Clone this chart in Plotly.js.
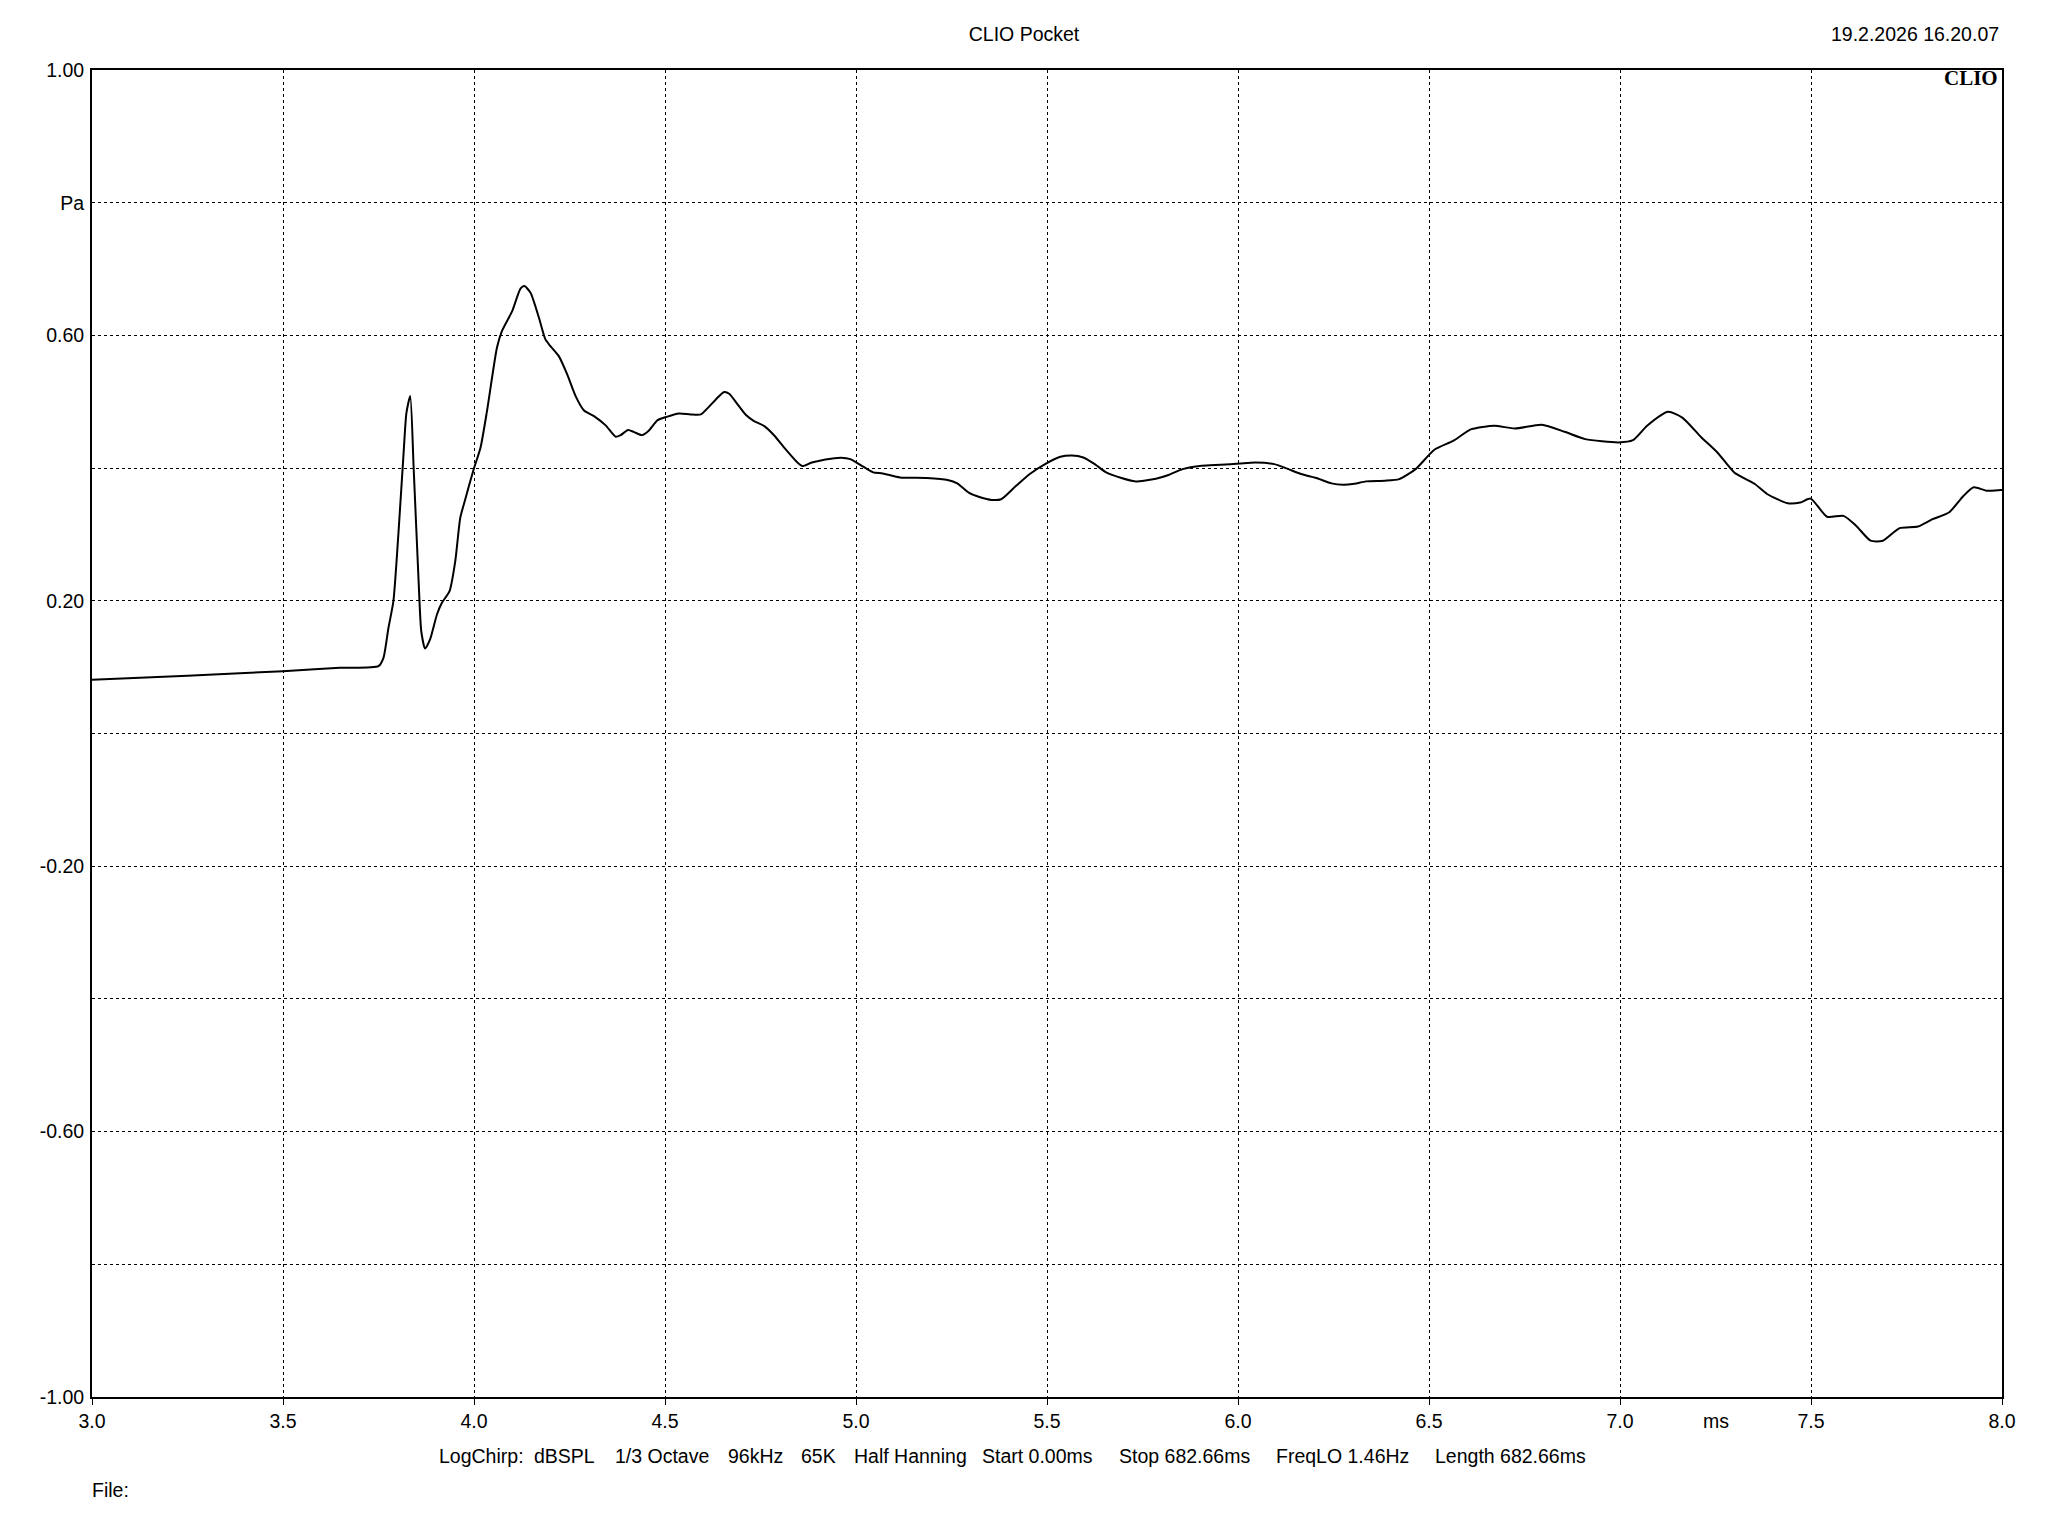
<!DOCTYPE html>
<html>
<head>
<meta charset="utf-8">
<script src="https://cdn.plot.ly/plotly-3.0.1.min.js"></script>
<style>
  html, body { margin: 0; padding: 0; background: #ffffff; }
  #chart { width: 2048px; height: 1536px; }
</style>
</head>
<body>
<div id="chart"></div>
<script>
// ---- Data ----
const time_ms = [
  3.000, 3.250, 3.500, 3.649, 3.750, 3.763, 3.776, 3.789, 3.802, 3.816,
  3.823, 3.833, 3.842, 3.855, 3.862, 3.872, 3.885, 3.903, 3.916, 3.936,
  3.951, 3.964, 3.977, 3.999, 4.017, 4.034, 4.060, 4.073, 4.100, 4.122,
  4.132, 4.148, 4.170, 4.187, 4.200, 4.222, 4.244, 4.266, 4.288, 4.314,
  4.344, 4.371, 4.384, 4.403, 4.419, 4.440, 4.458, 4.480, 4.502, 4.537,
  4.567, 4.594, 4.611, 4.633, 4.655, 4.668, 4.690, 4.712, 4.733, 4.760,
  4.786, 4.816, 4.843, 4.860, 4.882, 4.908, 4.934, 4.961, 4.985, 5.015,
  5.045, 5.070, 5.115, 5.185, 5.240, 5.265, 5.295, 5.325, 5.355, 5.380,
  5.415, 5.455, 5.495, 5.535, 5.565, 5.595, 5.625, 5.655, 5.695, 5.730,
  5.785, 5.820, 5.855, 5.905, 5.955, 6.005, 6.045, 6.095, 6.125, 6.165,
  6.205, 6.245, 6.275, 6.305, 6.335, 6.385, 6.422, 6.465, 6.514, 6.563,
  6.611, 6.671, 6.725, 6.795, 6.855, 6.909, 6.996, 7.034, 7.071, 7.126,
  7.163, 7.212, 7.255, 7.299, 7.353, 7.385, 7.439, 7.472, 7.499, 7.542,
  7.585, 7.618, 7.656, 7.688, 7.732, 7.780, 7.818, 7.861, 7.899, 7.926,
  7.959, 7.997, 8.000
];
const pressure_pa = [
  0.081, 0.087, 0.094, 0.099, 0.1015, 0.114, 0.159, 0.1995, 0.300, 0.4256,
  0.483, 0.5085, 0.4005, 0.2297, 0.154, 0.128, 0.1417, 0.1794, 0.197, 0.2146,
  0.2598, 0.325, 0.3528, 0.398, 0.4307, 0.486, 0.5814, 0.6065, 0.6367, 0.6709,
  0.6744, 0.6643, 0.6266, 0.594, 0.5839, 0.5688, 0.5412, 0.5085, 0.4869, 0.4784,
  0.4648, 0.4472, 0.4497, 0.4573, 0.4543, 0.4497, 0.4568, 0.4719, 0.4769, 0.4824,
  0.4809, 0.4809, 0.4900, 0.5035, 0.5146, 0.5120, 0.4960, 0.4799, 0.4709, 0.4633,
  0.4492, 0.4281, 0.4106, 0.4030, 0.4080, 0.4116, 0.4140, 0.4156, 0.4135, 0.4035,
  0.3935, 0.392, 0.386, 0.385, 0.382, 0.377, 0.363, 0.356, 0.352, 0.353,
  0.371, 0.391, 0.406, 0.417, 0.419, 0.416, 0.406, 0.3935, 0.385, 0.380,
  0.384, 0.390, 0.3985, 0.4035, 0.405, 0.407, 0.4085, 0.406, 0.400, 0.391,
  0.385, 0.377, 0.375, 0.3765, 0.380, 0.381, 0.3834, 0.3985, 0.4276, 0.441,
  0.4587, 0.4638, 0.4597, 0.4653, 0.4547, 0.4437, 0.4387, 0.442, 0.4638, 0.4848,
  0.476, 0.447, 0.4236, 0.3935, 0.376, 0.361, 0.347, 0.348, 0.354, 0.3267,
  0.328, 0.3132, 0.2906, 0.2906, 0.3096, 0.312, 0.323, 0.333, 0.358, 0.371,
  0.366, 0.367, 0.367
];

const x_tickvals = [3.0, 3.5, 4.0, 4.5, 5.0, 5.5, 6.0, 6.5, 7.0, 7.5, 8.0];
const x_ticktext = ["3.0", "3.5", "4.0", "4.5", "5.0", "5.5", "6.0", "6.5", "7.0", "7.5", "8.0"];
const y_tickvals = [1.0, 0.8, 0.6, 0.4, 0.2, 0.0, -0.2, -0.4, -0.6, -0.8, -1.0];
const y_ticktext = ["1.00", "Pa", "0.60", "", "0.20", "", "-0.20", "", "-0.60", "", "-1.00"];

const title_text = "CLIO Pocket";
const date_text = "19.2.2026 16.20.07";
const logo_text = "CLIO";
const x_unit = "ms";
const x_unit_pos = 7.25;
const file_text = "File:";
const info_items = ["LogChirp:", "dBSPL", "1/3 Octave", "96kHz", "65K", "Half Hanning",
                    "Start 0.00ms", "Stop 682.66ms", "FreqLO 1.46Hz", "Length 682.66ms"];

// ---- Layout helpers (page pixel -> paper coords) ----
const L = 92, R = 46, T = 70, B = 139, W = 2048, H = 1536;
const PW = W - L - R, PH = H - T - B;
const px = X => (X - L) / PW;
const py = Y => (H - B - Y) / PH;

const FONT = "Liberation Sans, Arial, sans-serif";
const infoLeft = [437, 532, 613, 726, 799, 852, 980, 1117, 1274, 1433];

const annotations = [];
info_items.forEach((t, i) => {
  annotations.push({
    text: t, xref: "paper", yref: "paper", x: px(infoLeft[i]), y: py(1456),
    xanchor: "left", yanchor: "middle", showarrow: false,
    font: { family: FONT, size: 19.5, color: "#000" }
  });
});
annotations.push({
  text: file_text, xref: "paper", yref: "paper", x: px(90), y: py(1490),
  xanchor: "left", yanchor: "middle", showarrow: false,
  font: { family: FONT, size: 19.5, color: "#000" }
});
annotations.push({
  text: x_unit, xref: "x", yref: "paper", x: x_unit_pos, y: py(1421),
  xanchor: "center", yanchor: "middle", showarrow: false,
  font: { family: FONT, size: 19.5, color: "#000" }
});
annotations.push({
  text: date_text, xref: "paper", yref: "paper", x: px(2001), y: py(34),
  xanchor: "right", yanchor: "middle", showarrow: false,
  font: { family: FONT, size: 19.5, color: "#000" }
});
annotations.push({
  text: "<b>" + logo_text + "</b>", xref: "paper", yref: "paper", x: px(2000), y: py(78),
  xanchor: "right", yanchor: "middle", showarrow: false,
  font: { family: "Liberation Serif, Times New Roman, serif", size: 21, color: "#000" }
});

const trace = {
  x: time_ms, y: pressure_pa, type: "scatter", mode: "lines",
  line: { color: "#000000", width: 2, shape: "spline", smoothing: 0.6 },
  hoverinfo: "skip"
};

const layout = {
  width: W, height: H,
  margin: { l: L, r: R, t: T, b: B, pad: 0 },
  paper_bgcolor: "#ffffff", plot_bgcolor: "#ffffff",
  showlegend: false,
  font: { family: FONT, size: 19.5, color: "#000" },
  title: {
    text: title_text, xref: "container", yref: "container", x: 0.5, y: 1 - 34 / H,
    xanchor: "center", yanchor: "middle",
    font: { family: FONT, size: 19.5, color: "#000" }
  },
  xaxis: {
    range: [3.0, 8.0], autorange: false, fixedrange: true,
    tickmode: "array", tickvals: x_tickvals, ticktext: x_ticktext,
    ticks: "outside", ticklen: 6, tickwidth: 1, tickcolor: "#000",
    showgrid: true, gridcolor: "#000", gridwidth: 1, griddash: "3px,3px",
    zeroline: false, showline: true, linecolor: "#000", linewidth: 2, mirror: true,
    tickfont: { family: FONT, size: 19.5, color: "#000" }
  },
  yaxis: {
    range: [-1.0, 1.0], autorange: false, fixedrange: true,
    tickmode: "array", tickvals: y_tickvals, ticktext: y_ticktext,
    ticks: "", ticklabelstandoff: 2,
    showgrid: true, gridcolor: "#000", gridwidth: 1, griddash: "3px,3px",
    zeroline: false, showline: true, linecolor: "#000", linewidth: 2, mirror: true,
    tickfont: { family: FONT, size: 19.5, color: "#000" }
  },
  annotations: annotations
};

Plotly.newPlot("chart", [trace], layout, { staticPlot: true, displayModeBar: false });
</script>
</body>
</html>
